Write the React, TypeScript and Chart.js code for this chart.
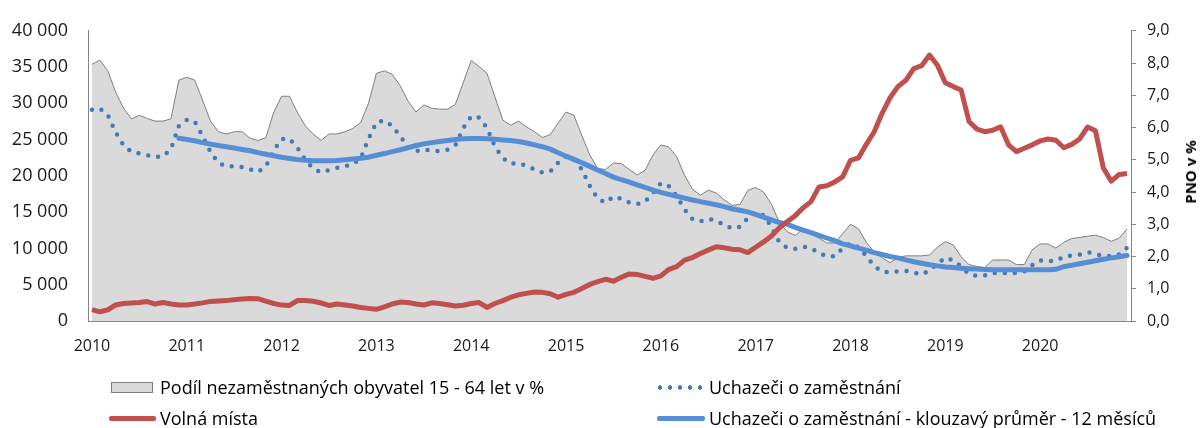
import React, { useEffect, useRef } from 'react';
import { Chart, registerables } from 'chart.js';

Chart.register(...registerables);

const YEARS = ['2010', '2011', '2012', '2013', '2014', '2015', '2016', '2017', '2018', '2019', '2020'];

// Podíl nezaměstnaných obyvatel 15 - 64 let v % (right axis)
const PNO = [
  7.96, 8.09, 7.76, 7.10, 6.60, 6.27, 6.38, 6.28, 6.20, 6.20, 6.27, 7.47,
  7.56, 7.47, 6.85, 6.20, 5.87, 5.80, 5.87, 5.87, 5.67, 5.60, 5.68, 6.47,
  6.97, 6.97, 6.47, 6.05, 5.80, 5.60, 5.80, 5.80, 5.87, 5.97, 6.15, 6.75,
  7.68, 7.76, 7.65, 7.30, 6.82, 6.48, 6.70, 6.60, 6.57, 6.57, 6.72, 7.40,
  8.08, 7.89, 7.68, 6.95, 6.23, 6.07, 6.20, 6.02, 5.87, 5.69, 5.78, 6.14,
  6.48, 6.38, 5.75, 5.15, 4.73, 4.70, 4.90, 4.88, 4.70, 4.53, 4.67, 5.15,
  5.46, 5.40, 5.09, 4.52, 4.09, 3.90, 4.06, 3.97, 3.76, 3.59, 3.61, 4.05,
  4.14, 4.00, 3.62, 3.05, 2.77, 2.65, 2.85, 2.72, 2.57, 2.42, 2.42, 2.70,
  3.00, 2.86, 2.44, 2.14, 1.96, 1.81, 1.97, 2.02, 2.02, 2.02, 2.05, 2.29,
  2.46, 2.36, 1.99, 1.75, 1.69, 1.66, 1.89, 1.89, 1.89, 1.75, 1.75, 2.21,
  2.39, 2.39, 2.26, 2.44, 2.56, 2.59, 2.63, 2.66, 2.59, 2.47, 2.57, 2.86,
];

// Uchazeči o zaměstnání (left axis)
const UCHAZECI = [
  29130, 29300, 28400, 26000, 24200, 23300, 23100, 22850, 22600, 22700, 23700, 26900,
  27700, 27500, 25500, 23300, 21800, 21300, 21350, 21200, 20900, 20550, 21300, 23500,
  25100, 25100, 23900, 22200, 21000, 20500, 20800, 21100, 21300, 21600, 22400, 25100,
  27400, 27650, 26900, 25500, 24020, 23420, 23640, 23460, 23440, 23620, 24220, 26630,
  28230, 28030, 26630, 24020, 22480, 21680, 21740, 21410, 20870, 20470, 20600, 21810,
  22610, 22340, 20870, 18600, 16860, 16320, 17170, 16860, 16320, 16100, 16460, 17660,
  19000, 18600, 17260, 15390, 14050, 13740, 14050, 13850, 13250, 12750, 12980, 14180,
  14990, 14580, 12980, 10840, 10100, 9940, 10240, 10040, 9370, 8920, 8920, 10040,
  10700, 10170, 8960, 7560, 6820, 6730, 6860, 6900, 6650, 6400, 6960, 7890,
  8700, 8360, 7490, 6490, 6220, 6290, 6600, 6620, 6620, 6600, 6820, 7690,
  8360, 8230, 8300, 8830, 9060, 9170, 9500, 9230, 8960, 8960, 9170, 10100,
];

// Uchazeči o zaměstnání - klouzavý průměr - 12 měsíců (left axis)
const KLOUZAVY = [
  null, null, null, null, null, null, null, null, null, null, null, 25200,
  25020, 24850, 24590, 24380, 24180, 24020, 23840, 23640, 23460, 23210, 22990, 22770,
  22560, 22400, 22250, 22160, 22100, 22080, 22090, 22130, 22240, 22330, 22440, 22570,
  22840, 23080, 23350, 23600, 23880, 24190, 24410, 24590, 24750, 24890, 25010, 25110,
  25150, 25150, 25130, 25050, 24950, 24870, 24750, 24540, 24280, 24020, 23680, 23200,
  22720, 22280, 21810, 21310, 20820, 20340, 19840, 19470, 19130, 18760, 18410, 18040,
  17720, 17450, 17190, 16940, 16680, 16460, 16230, 16020, 15760, 15480, 15270, 15040,
  14680, 14320, 13940, 13570, 13310, 12910, 12540, 12180, 11810, 11440, 11070, 10640,
  10370, 10040, 9770, 9430, 9170, 8900, 8700, 8430, 8160, 7960, 7760, 7600,
  7450, 7360, 7270, 7200, 7150, 7100, 7060, 7050, 7050, 7050, 7050, 7050,
  7050, 7050, 7130, 7490, 7690, 7890, 8090, 8300, 8500, 8700, 8860, 9030,
];

// Volná místa (left axis)
const VOLNA = [
  1570, 1270, 1540, 2210, 2410, 2480, 2540, 2680, 2340, 2540, 2340, 2210,
  2210, 2340, 2500, 2700, 2770, 2810, 2940, 3040, 3100, 3080, 2740, 2410,
  2190, 2140, 2810, 2810, 2720, 2480, 2140, 2340, 2210, 2070, 1870, 1740,
  1610, 1940, 2340, 2610, 2540, 2340, 2210, 2500, 2410, 2230, 2070, 2180,
  2410, 2540, 1870, 2410, 2810, 3280, 3610, 3810, 3990, 3950, 3750, 3280,
  3680, 3950, 4480, 5040, 5420, 5750, 5490, 6020, 6490, 6420, 6150, 5890,
  6220, 7120, 7490, 8390, 8740, 9300, 9770, 10240, 10100, 9900, 9820, 9430,
  10170, 10900, 11710, 12850, 13710, 14520, 15590, 16460, 18460, 18640, 19170, 19870,
  22140, 22480, 24350, 26090, 28630, 30770, 32310, 33180, 34790, 35190, 36660, 35260,
  32850, 32310, 31840, 27500, 26450, 26090, 26290, 26760, 24280, 23350, 23820, 24280,
  24820, 25090, 24910, 23880, 24350, 25090, 26730, 26220, 21100, 19270, 20200, 20340,
];

const LEFT_TICK_STEP = 5000;
const RIGHT_TICK_STEP = 1;

const MONTHS = YEARS.flatMap((y) => Array.from({ length: 12 }, (_, m) => `${y}-${String(m + 1).padStart(2, '0')}`));

const FONT = '"Open Sans", sans-serif';
const W = 1201;
const H = 428;

function fmtThousands(v: number) {
  return String(v).replace(/\B(?=(\d{3})+(?!\d))/g, ' ');
}

export default function App() {
  const ref = useRef<HTMLCanvasElement | null>(null);

  useEffect(() => {
    if (!ref.current) return;
    const chart = new Chart(ref.current, {
      type: 'line',
      data: {
        labels: MONTHS,
        datasets: [
          {
            label: 'Volná místa',
            data: VOLNA,
            yAxisID: 'y',
            borderColor: '#c0504d',
            borderWidth: 5,
            pointRadius: 0,
            tension: 0,
            fill: false,
            order: 1,
            borderJoinStyle: 'round',
          },
          {
            label: 'Uchazeči o zaměstnání - klouzavý průměr - 12 měsíců',
            data: KLOUZAVY,
            yAxisID: 'y',
            borderColor: '#558ed5',
            borderWidth: 5,
            pointRadius: 0,
            tension: 0,
            fill: false,
            order: 2,
            borderCapStyle: 'round',
          },
          {
            label: 'Uchazeči o zaměstnání',
            data: UCHAZECI,
            yAxisID: 'y',
            borderColor: '#4679b8',
            borderWidth: 4.5,
            borderDash: [0, 10],
            borderCapStyle: 'round',
            pointRadius: 0,
            tension: 0,
            fill: false,
            order: 3,
          },
          {
            label: 'Podíl nezaměstnaných obyvatel 15 - 64 let v %',
            data: PNO,
            yAxisID: 'y1',
            borderColor: '#7f7f7f',
            borderWidth: 1,
            backgroundColor: '#dadada',
            pointRadius: 0,
            tension: 0,
            fill: 'origin',
            order: 4,
          },
        ],
      },
      options: {
        responsive: false,
        animation: false,
        layout: { padding: { top: 22, left: 0, right: 0, bottom: 0 } },
        plugins: { legend: { display: false }, tooltip: { enabled: false } },
        scales: {
          x: {
            type: 'category',
            offset: true,
            grid: { display: false, drawTicks: false },
            border: { display: true, color: '#868686', width: 1 },
            ticks: {
              autoSkip: false,
              maxRotation: 0,
              minRotation: 0,
              padding: 16,
              color: '#1a1a1a',
              font: { family: FONT, size: 16 },
              callback: (_v: any, i: number) => (i % 12 === 0 ? YEARS[i / 12] : ''),
            },
            afterFit: (s: any) => {
              s.height = H - 321;
            },
          },
          y: {
            position: 'left',
            min: 0,
            max: 40000,
            grid: { display: false, drawTicks: false },
            border: { display: true, color: '#868686', width: 1 },
            ticks: {
              stepSize: LEFT_TICK_STEP,
              padding: 20,
              color: '#1a1a1a',
              font: { family: FONT, size: 18 },
              callback: (v: any) => fmtThousands(Number(v)),
            },
            afterFit: (s: any) => {
              s.width = 88;
            },
          },
          y1: {
            position: 'right',
            min: 0,
            max: 9,
            grid: { display: true, drawOnChartArea: false, drawTicks: true, tickLength: 5, color: '#868686' },
            border: { display: true, color: '#868686', width: 1 },
            ticks: {
              stepSize: RIGHT_TICK_STEP,
              padding: 11,
              color: '#1a1a1a',
              font: { family: FONT, size: 16 },
              callback: (v: any) => Number(v).toFixed(1).replace('.', ','),
            },
            afterFit: (s: any) => {
              s.width = W - 1131;
            },
          },
        },
      },
    });
    return () => chart.destroy();
  }, []);

  const textStyle: React.CSSProperties = {
    position: 'absolute',
    fontFamily: FONT,
    fontSize: 18,
    color: '#000',
    whiteSpace: 'nowrap',
    lineHeight: '20px',
  };

  return (
    <div style={{ position: 'absolute', left: 0, top: 0, width: W, height: H, background: '#fff', overflow: 'hidden' }}>
      <canvas ref={ref} width={W} height={H} style={{ display: 'block', width: W, height: H }} />
      <div
        style={{
          position: 'absolute',
          left: 1190,
          top: 172,
          transform: 'translate(-50%, -50%) rotate(-90deg)',
          fontFamily: FONT,
          fontSize: 15,
          fontWeight: 700,
          color: '#000',
          whiteSpace: 'nowrap',
        }}
      >
        PNO v %
      </div>
      {/* legend row 1 */}
      <div style={{ position: 'absolute', left: 111, top: 382, width: 42, height: 11, background: '#dadada', border: '1px solid #7f7f7f', boxSizing: 'border-box' }} />
      <div style={{ ...textStyle, left: 160, top: 377 }}>Podíl nezaměstnaných obyvatel 15 - 64 let v %</div>
      <div
        style={{
          position: 'absolute',
          left: 655,
          top: 385,
          width: 50,
          height: 5,
          backgroundImage: 'radial-gradient(circle, #4679b8 2px, rgba(255,255,255,0) 2.5px)',
          backgroundSize: '10px 5px',
        }}
      />
      <div style={{ ...textStyle, left: 709, top: 377 }}>Uchazeči o zaměstnání</div>
      {/* legend row 2 */}
      <div style={{ position: 'absolute', left: 109, top: 416, width: 47, height: 5, background: '#c0504d', borderRadius: 2 }} />
      <div style={{ ...textStyle, left: 160, top: 408 }}>Volná místa</div>
      <div style={{ position: 'absolute', left: 657, top: 416, width: 48, height: 5, background: '#558ed5', borderRadius: 2 }} />
      <div style={{ ...textStyle, left: 709, top: 408 }}>Uchazeči o zaměstnání - klouzavý průměr - 12 měsíců</div>
    </div>
  );
}
